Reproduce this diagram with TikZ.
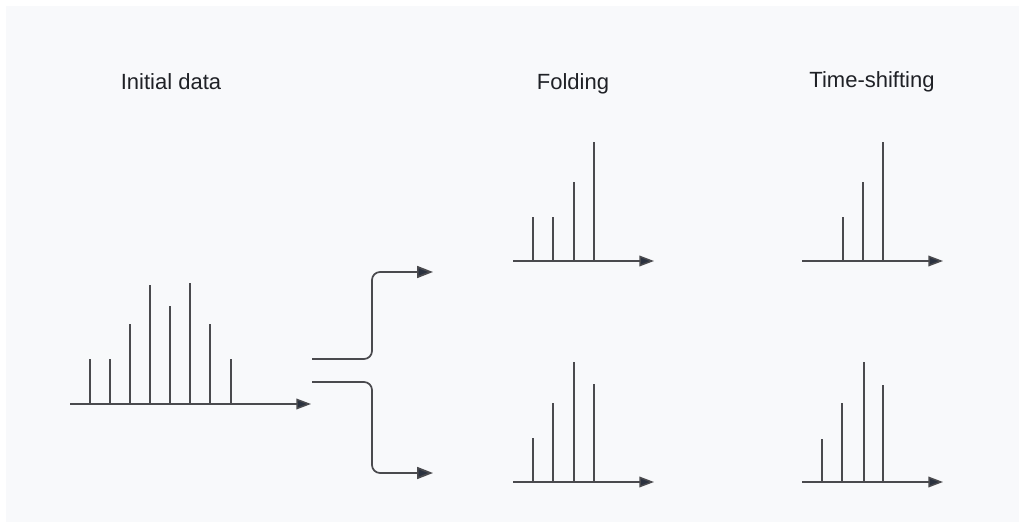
\documentclass[tikz,border=0pt]{standalone}
\usepackage{fontspec}
\setmainfont{Liberation Sans}
\usetikzlibrary{arrows.meta}
\definecolor{bgc}{HTML}{F8F9FB}
\definecolor{stemc}{HTML}{4A4A4E}
\definecolor{tipc}{HTML}{2B3240}
\definecolor{txtc}{HTML}{1F2126}
\tikzset{
  axisline/.style={draw=stemc, line width=1.1pt, -{Triangle[length=11pt,width=8pt,fill=tipc]}},
  stemline/.style={draw=stemc, line width=1.1pt},
  conn/.style={draw=stemc, line width=1.3pt, rounded corners=6pt},
  connarrow/.style={draw=stemc, line width=1.3pt, rounded corners=6pt, -{Triangle[length=12pt,width=9pt,fill=tipc]}},
  lbl/.style={text=txtc, font=\fontsize{16.5pt}{19pt}\selectfont, anchor=base, inner sep=0pt}
}
\begin{document}
\begin{tikzpicture}[x=0.75pt,y=-0.75pt]
\useasboundingbox (0,0) rectangle (1019,523);
\fill[bgc] (6,6) rectangle (1019,522);
% labels
\node[lbl] (t1) at (171,90) {Initial data};
\node[lbl] (t2) at (573,90) {Folding};
\node[lbl] (t3) at (872,88) {Time-shifting};
% initial data
\foreach \x/\t in {90/359,110/359,130/324,150/285,170/306,190/283,210/324,231/359}
  \draw[stemline] (\x,404) -- (\x,\t);
\draw[axisline] (70,404) -- (311,404);
% connectors
\coordinate (s1) at (312,359);
\coordinate (e1) at (433,272);
\coordinate (s2) at (312,382);
\coordinate (e2) at (433,473);
\draw[connarrow] (s1) -- (372,359) -- (372,272) -- (e1);
\draw[connarrow] (s2) -- (372,382) -- (372,473) -- (e2);
% folding top
\foreach \x/\t in {533/217,553/217,574/182,594/142}
  \draw[stemline] (\x,261) -- (\x,\t);
\draw[axisline] (513,261) -- (654,261);
% folding bottom
\foreach \x/\t in {533/438,553/403,574/362,594/384}
  \draw[stemline] (\x,482) -- (\x,\t);
\draw[axisline] (513,482) -- (654,482);
% time-shifting top
\foreach \x/\t in {843/217,863/182,883/142}
  \draw[stemline] (\x,261) -- (\x,\t);
\draw[axisline] (802,261) -- (943,261);
% time-shifting bottom
\foreach \x/\t in {822/439,842/403,864/362,883/385}
  \draw[stemline] (\x,482) -- (\x,\t);
\draw[axisline] (802,482) -- (943,482);
\end{tikzpicture}
\end{document}
